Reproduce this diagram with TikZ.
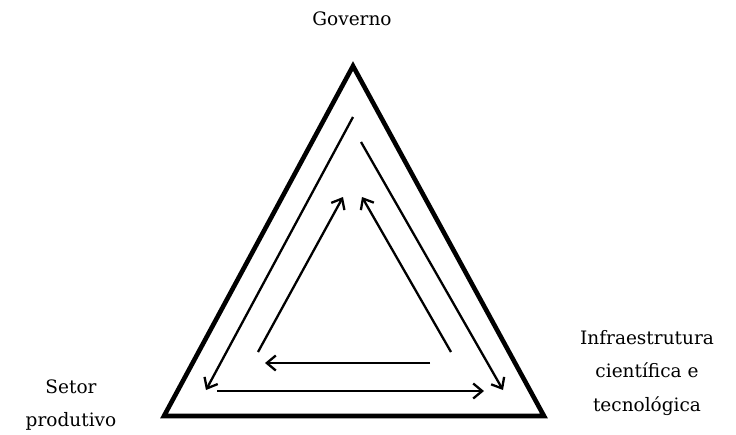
\documentclass[tikz,border=0pt]{standalone}
\usepackage{fontspec}
\setmainfont{DejaVu Serif}
\usetikzlibrary{arrows.meta}
\begin{document}
\begin{tikzpicture}[x=1pt,y=-1pt,
  label/.style={font=\fontsize{18.5}{33.5}\selectfont, align=center, inner sep=0pt},
  flow/.style={line width=2.3pt, -{Straight Barb[length=9pt,width=15pt,line width=2.3pt]}},
  frame/.style={line width=4.6pt, line join=miter}]
\useasboundingbox (0,0) rectangle (736,434);
\coordinate (A) at (353,66);
\coordinate (B) at (164,416);
\coordinate (C) at (544,416);
\draw[frame] (A) -- (B) -- (C) -- cycle;
% outer arrows
\coordinate (o1s) at (353,117); \coordinate (o1e) at (206,390);
\coordinate (o2s) at (361,142); \coordinate (o2e) at (503,390);
\coordinate (o3s) at (217,391); \coordinate (o3e) at (484,391);
\draw[flow] (o1s) -- (o1e);
\draw[flow] (o2s) -- (o2e);
\draw[flow] (o3s) -- (o3e);
% inner arrows
\coordinate (i1s) at (258,352); \coordinate (i1e) at (343,197);
\coordinate (i2s) at (451,352); \coordinate (i2e) at (362,197);
\coordinate (i3s) at (430,363); \coordinate (i3e) at (265,363);
\draw[flow] (i1s) -- (i1e);
\draw[flow] (i2s) -- (i2e);
\draw[flow] (i3s) -- (i3e);
% labels
\node[label] (gov) at (352,19) {Governo};
\node[label] (set) at (71,405) {Setor\\produtivo};
\node[label] (inf) at (647,373) {Infraestrutura\\científica e\\tecnológica};
\end{tikzpicture}
\end{document}
